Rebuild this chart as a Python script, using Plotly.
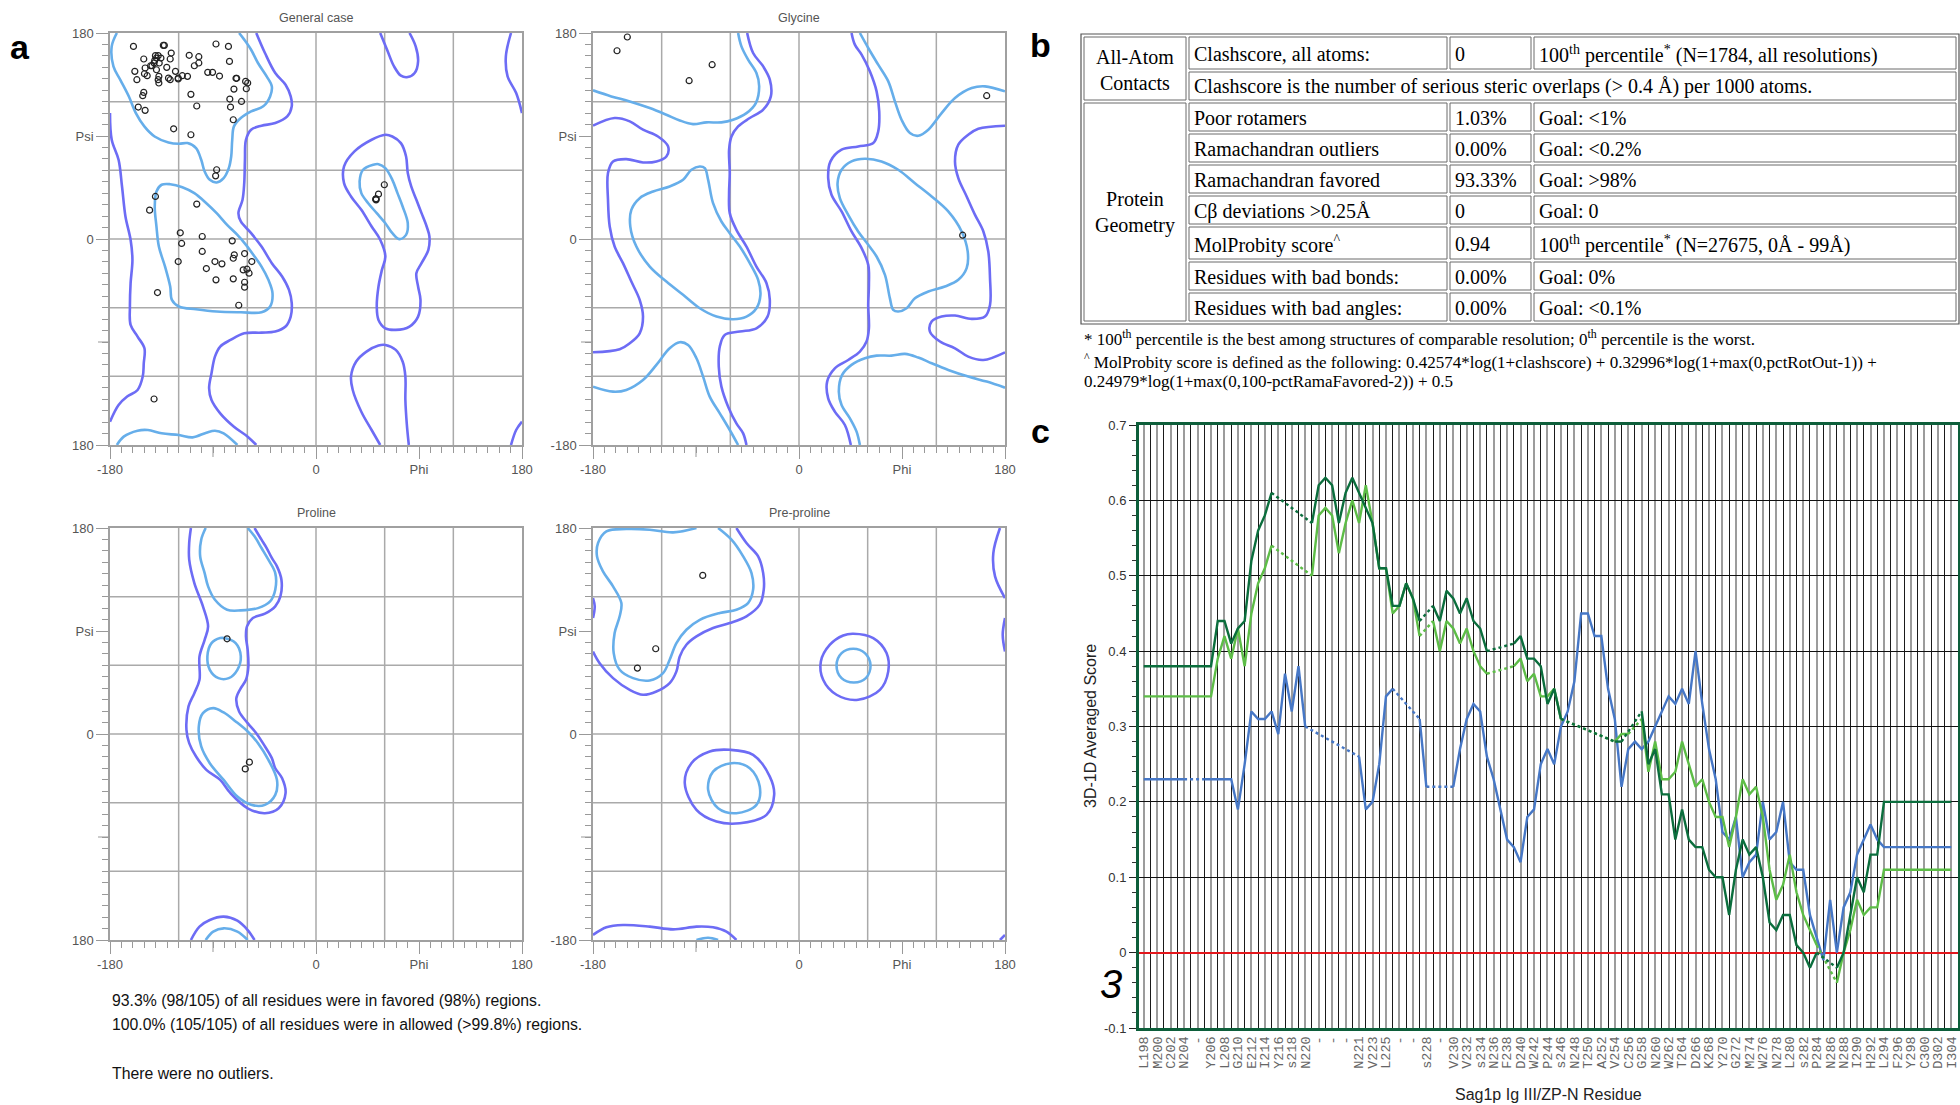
import plotly.graph_objects as go

W, H = 1960, 1105

# ---------------- Panel a : Ramachandran data (phi, psi) ----------------
GEN_FAVORED = [
    [[-174, 180], [-178.5, 168.3], [-177, 150.8], [-171, 139.1], [-163.5, 124.5], [-157.4, 110], [-150, 98.4],
     [-141, 89.6], [-128.9, 84.4], [-119.8, 83.2], [-112.3, 83.8], [-104.8, 79.4], [-100.3, 69.2], [-97.3, 59],
     [-92.8, 51.7], [-86.8, 49.4], [-80.7, 53.2], [-76.2, 61.9], [-74.1, 72.1], [-73.2, 86.7], [-71.7, 98.4],
     [-65.7, 105.7], [-56.7, 111.5], [-46.1, 115.9], [-40.1, 124.6], [-38.6, 133.4], [-43.1, 142.1],
     [-50.7, 153.8], [-56.7, 165.4], [-62.7, 174.2], [-67.2, 180]],
    [[-174, -180], [-168, -172.7], [-155.9, -167.5], [-146.9, -166.9], [-134.9, -169.8], [-119.8, -171.3],
     [-107.8, -173.3], [-95.8, -169.2], [-88.3, -167.5], [-80.7, -169.8], [-68.7, -180]],
    [[-134.9, 47.4], [-139.4, 41.5], [-140.9, 28.4], [-139.4, 10.9], [-137.3, -6.6], [-131.9, -24.1],
     [-127.4, -41.5], [-125.9, -53.2], [-119.8, -59], [-104.8, -61.4], [-86.8, -63.4], [-65.7, -64], [-47.6, -64],
     [-40.1, -59], [-38, -47.4], [-41.6, -35.7], [-47.6, -24.1], [-53.7, -15.3], [-61.2, -5.1], [-68.7, 3.6],
     [-77.7, 12.4], [-86.8, 22.6], [-95.8, 31.3], [-106.3, 40.1], [-116.8, 45.3], [-127.4, 47.9], [-134.9, 47.4]],
    [[50.1, 64.9], [41.1, 60.5], [38.1, 50.3], [39.6, 40.1], [45.6, 31.3], [53.1, 22.6], [60.6, 13.8], [66.7, 5.1],
     [72.7, -0.1], [78.7, 3.6], [80.2, 13.8], [75.7, 28.4], [71.2, 40.1], [66.7, 51.7], [60.6, 61.9], [54.6, 65.4],
     [50.1, 64.9]],
]
GEN_ALLOWED = [
    [[-52.2, 180], [-44.6, 162.5], [-35.6, 145], [-26.6, 134.8], [-22.1, 124.6], [-21.2, 115.9], [-25.1, 107.1],
     [-35.6, 101.3], [-47.6, 99], [-56.7, 95.5], [-61.2, 86.7], [-62.1, 69.2], [-62.7, 48.8], [-64.2, 34.3],
     [-67.8, 22.6], [-65.7, 15.3], [-56.7, 5.1], [-47.6, -6.6], [-38.6, -21.1], [-29.6, -32.8], [-23.6, -44.5],
     [-21.2, -56.1], [-22.1, -67.8], [-26.6, -76.5], [-35.6, -80.9], [-47.6, -81.8], [-62.7, -82.4],
     [-74.7, -88.2], [-83.7, -94], [-88.3, -102.8], [-91.3, -117.3], [-93.4, -130.4], [-91.3, -140.7],
     [-83.7, -152.3], [-71.7, -164], [-59.7, -172.7], [-52.2, -180]],
    [[-180, 110], [-178.5, 86.7], [-172.5, 69.2], [-169.5, 45.9], [-166.5, 19.7], [-162, -0.7], [-160.4, -18.2],
     [-162, -38.6], [-162.6, -59], [-162, -75.1], [-155.9, -85.3], [-149.9, -95.5], [-150.5, -108.6],
     [-151.4, -120.2], [-155.9, -131.9], [-165, -137.7], [-172.5, -145], [-180, -159.6]],
    [[170.4, 180], [165.9, 159.6], [167.4, 142.1], [174.9, 127.5], [180, 110]],
    [[180, -159.6], [174.9, -166.9], [170.4, -180]],
    [[56.1, 180], [62.1, 165.4], [68.2, 150.8], [74.2, 142.7], [80.2, 141.5], [86.2, 145], [89.2, 155.2],
     [87.1, 168.3], [81.7, 180]],
    [[60.6, 91.1], [48.6, 86.7], [33.6, 76.5], [24.5, 63.4], [24.5, 48.8], [30.6, 37.2], [39.6, 25.5], [48.6, 10.9],
     [56.1, -0.7], [60.6, -15.3], [57.6, -27], [54.6, -41.5], [53.1, -59], [54.6, -70.7], [60.6, -78],
     [69.7, -79.4], [81.7, -76.5], [89.2, -67.8], [91.3, -53.2], [89.2, -41.5], [87.7, -29.9], [92.2, -21.1],
     [98.2, -9.5], [99.1, 2.2], [96.7, 10.9], [92.2, 22.6], [87.7, 34.3], [83.2, 45.9], [80.2, 57.6], [78.7, 72.1],
     [74.2, 83.8], [66.7, 89.6], [60.6, 91.1]],
    [[56.1, -180], [48.6, -166.9], [39.6, -150.9], [32.1, -131.9], [30.6, -120.2], [35.1, -107.1], [44.1, -98.4],
     [54.6, -93.1], [60.6, -92.6], [69.7, -96.9], [75.7, -107.1], [78.1, -120.2], [78.1, -140.7], [79.3, -161.1],
     [81.1, -180]],
]
GEN_PHI = [-159.5, -150.5, -149.3, -158.3, -156.5, -149.9, -147.5, -143.3, -140.9, -139.4, -137.9, -137.0, -139.4,
           -137.3, -137.9, -137.3, -135.5, -133.4, -132.5, -130.4, -128.9, -127.4, -126.5, -127.4, -122.8, -120.4,
           -120.4, -116.8, -112.3, -110.8, -102.4, -102.4, -106.3, -109.3, -104.2, -94.6, -90.4, -87.4, -84.3, -76.5,
           -75.6, -69.9, -69.3, -71.7, -75.3, -74.7, -65.1, -61.5, -59.7, -60.9, -72.3, -151.4, -150.5, -155.3,
           -149.3, -124.4, -109.3, -86.8, -87.7, -140.3, -141.5, -144.5,
           -140.3, -145.4, -104.2, -118.6, -117.4, -99.4, -73.2, -99.4, -120.4, -95.8, -88.3, -82.2, -71.4, -72.3,
           -62.4, -56.1, -63.6, -60.3, -58.5, -72.3, -87.4, -62.4, -62.4, -67.5, -138.5,
           59.7, 54.6, 52.5, 52.5, 52.2,
           -141.5]
GEN_PSI = [168.3, 157.3, 149.4, 146.5, 139.2, 144.4, 142.7, 151.4, 156.1, 158.1, 160.2, 153.8, 147.9, 142.1, 139.2,
           136.3, 158.1, 169.2, 169.2, 150.0, 140.6, 157.3, 162.5, 139.2, 146.5, 140.6, 139.8, 142.7, 142.1, 160.5,
           159.3, 153.8, 151.4, 126.4, 116.2, 145.6, 145.6, 170.4, 142.4, 168.3, 155.2, 140.4, 140.4, 131.0, 122.3,
           115.3, 120.2, 137.7, 136.3, 131.3, 104.2, 125.2, 128.1, 115.3, 112.4, 96.3, 91.1, 60.5, 55.2, 160.2,
           153.8, 151.4,
           37.2, 25.2, 30.5, 5.4, -3.9, 2.2, -1.6, -10.9, -19.7, -25.8, -19.7, -21.7, -13.8, -16.8, -12.7, -19.7,
           -27.0, -26.4, -29.9, -34.8, -35.7, -37.8, -42.1, -57.9, -46.8,
           47.4, 39.2, 35.1, 34.2, 34.8,
           -139.8]

GLY_FAVORED = [
    [[-180, 129.9], [-164, 124.6], [-147.9, 120.2], [-130.4, 114.4], [-115.9, 108.6], [-104.2, 103.6],
     [-92.6, 100.4], [-80.9, 101.9], [-67.8, 101.9], [-57.6, 104.2], [-45.9, 110], [-37.7, 118.8], [-34.8, 133.4],
     [-37.2, 145], [-44.5, 156.7], [-50.3, 168.3], [-53.2, 180]],
    [[-53.2, -180], [-60.5, -166.9], [-69.2, -152.3], [-78, -137.7], [-83.8, -120.2], [-89.6, -104.2],
     [-96.9, -92.6], [-104.2, -90.2], [-113, -95.5], [-124.6, -110], [-136.3, -123.2], [-150.9, -131.9],
     [-162.5, -133.4], [-180, -129]],
    [[-86.7, 63.4], [-94, 60.5], [-101.3, 51.7], [-113, 45.9], [-127.5, 41.5], [-139.2, 35.7], [-146.5, 25.5],
     [-147.4, 10.9], [-142.1, -6.6], [-130.4, -24.1], [-115.9, -37.2], [-101.3, -48.8], [-86.7, -60.5],
     [-72.1, -67.8], [-57.6, -70.1], [-45.9, -67.8], [-37.2, -60.5], [-33.7, -48.8], [-35.7, -35.7], [-43, -21.1],
     [-51.7, -6.6], [-60.5, 5.1], [-67.8, 15.3], [-75.1, 31.3], [-79.4, 51.7], [-82.3, 61.9], [-86.7, 63.4]],
    [[180, -129.9], [164, -124.6], [147.9, -120.2], [130.4, -114.4], [115.9, -108.6], [104.2, -103.6],
     [92.6, -100.4], [80.9, -101.9], [67.8, -101.9], [57.6, -104.2], [45.9, -110], [37.7, -118.8], [34.8, -133.4],
     [37.2, -145], [44.5, -156.7], [50.3, -168.3], [53.2, -180]],
    [[53.2, 180], [60.5, 166.9], [69.2, 152.3], [78, 137.7], [83.8, 120.2], [89.6, 104.2], [96.9, 92.6],
     [104.2, 90.2], [113, 95.5], [124.6, 110], [136.3, 123.2], [150.9, 131.9], [162.5, 133.4], [180, 129]],
    [[86.7, -63.4], [94, -60.5], [101.3, -51.7], [113, -45.9], [127.5, -41.5], [139.2, -35.7], [146.5, -25.5],
     [147.4, -10.9], [142.1, 6.6], [130.4, 24.1], [115.9, 37.2], [101.3, 48.8], [86.7, 60.5], [72.1, 67.8],
     [57.6, 70.1], [45.9, 67.8], [37.2, 60.5], [33.7, 48.8], [35.7, 35.7], [43, 21.1], [51.7, 6.6], [60.5, -5.1],
     [67.8, -15.3], [75.1, -31.3], [79.4, -51.7], [82.3, -61.9], [86.7, -63.4]],
]
GLY_ALLOWED = [
    [[-180, 99], [-161.1, 105.7], [-147.9, 102.8], [-136.3, 95.5], [-123.2, 89.6], [-114.4, 80.9], [-115.9, 72.1],
     [-124.6, 67.8], [-136.3, 66.9], [-150.9, 69.8], [-162.5, 67.8], [-166.9, 57.6], [-166.9, 34.3],
     [-165.4, 10.9], [-161.1, -6.6], [-153.8, -21.1], [-146.5, -37.2], [-139.2, -53.2], [-136.3, -67.8],
     [-139.2, -82.4], [-147.9, -91.1], [-156.7, -96.3], [-180, -99]],
    [[-45.3, 180], [-40.1, 162.5], [-31.3, 150.8], [-25.5, 139.2], [-24.6, 124.6], [-31.3, 113], [-43, 105.7],
     [-53.2, 98.4], [-59, 89.6], [-61.1, 78], [-60.5, 57.6], [-61.1, 40.1], [-60.5, 22.6], [-54.7, 8],
     [-45.9, -6.6], [-37.2, -24.1], [-28.4, -38.6], [-25.5, -53.2], [-27.5, -67.8], [-37.2, -78], [-51.7, -80.9],
     [-64.9, -83.8], [-69.2, -94], [-70.1, -111.5], [-67.8, -129], [-61.9, -146.5], [-54.7, -161.1],
     [-48.8, -169.8], [-45.9, -180]],
    [[45.3, -180], [40.1, -162.5], [31.3, -150.8], [25.5, -139.2], [24.6, -124.6], [31.3, -113], [43, -105.7],
     [53.2, -98.4], [59, -89.6], [61.1, -78], [60.5, -57.6], [61.1, -40.1], [60.5, -22.6], [54.7, -8],
     [45.9, 6.6], [37.2, 24.1], [28.4, 38.6], [25.5, 53.2], [27.5, 67.8], [37.2, 78], [51.7, 80.9], [64.9, 83.8],
     [69.2, 94], [70.1, 111.5], [67.8, 129], [61.9, 146.5], [54.7, 161.1], [48.8, 169.8], [45.9, 180]],
    [[180, -99], [161.1, -105.7], [147.9, -102.8], [136.3, -95.5], [123.2, -89.6], [114.4, -80.9], [115.9, -72.1],
     [124.6, -67.8], [136.3, -66.9], [150.9, -69.8], [162.5, -67.8], [166.9, -57.6], [166.9, -34.3],
     [165.4, -10.9], [161.1, 6.6], [153.8, 21.1], [146.5, 37.2], [139.2, 53.2], [136.3, 67.8], [139.2, 82.4],
     [147.9, 91.1], [156.7, 96.3], [180, 99]],
]
GLY_PHI = [-150.0, -159.0, -75.9, -96.0, 164.0, 143.0]
GLY_PSI = [176.5, 164.5, 152.3, 138.3, 125.2, 3.3]

PRO_FAVORED = [
    [[-96.4, 180], [-100.3, 169.8], [-101.2, 155.2], [-97.3, 140.6], [-94.3, 129], [-88.3, 117.3], [-77.7, 108.6],
     [-65.7, 108], [-50.7, 110], [-40.1, 115.9], [-35.6, 126.1], [-35.6, 140.6], [-41.6, 152.3], [-47.6, 162.5],
     [-53.7, 172.7], [-59.7, 180]],
    [[-80.1, 83.8], [-70.2, 79.4], [-65.7, 67.8], [-68.7, 56.1], [-76.2, 48.8], [-85.2, 48.8], [-92.8, 56.1],
     [-94.9, 67.8], [-91.3, 79.4], [-83.7, 83.8], [-80.1, 83.8]],
    [[-89.8, 22.6], [-98.8, 18.2], [-102.4, 6.6], [-100.3, -10.9], [-92.8, -25.5], [-80.7, -40.1], [-68.7, -54.7],
     [-56.7, -61.9], [-44.6, -61.9], [-35.6, -53.2], [-34.1, -40.1], [-41.6, -22.6], [-50.7, -8], [-59.7, 2.2],
     [-70.2, 11], [-80.7, 18.8], [-89.8, 22.6]],
    [[-96.4, -180], [-89.8, -172.7], [-80.7, -169.8], [-68.7, -172.7], [-59.7, -180]],
]
PRO_ALLOWED = [
    [[-109.3, 180], [-110.8, 166.9], [-110.8, 152.3], [-106.3, 131.9], [-98.8, 111.5], [-94.3, 94], [-97.3, 82.3],
     [-101.8, 67.8], [-101.8, 47.4], [-106.3, 35.7], [-111.4, 24.1], [-113.2, 3.6], [-110.8, -8], [-104.8, -19.7],
     [-95.8, -31.3], [-83.7, -40.1], [-74.7, -51.7], [-59.7, -64.9], [-44.6, -69.2], [-32.6, -64.9],
     [-26.6, -51.7], [-29.6, -38.6], [-35.6, -29.9], [-38.6, -21.1], [-44.6, -10.9], [-52.2, 0.7], [-59.7, 9.5],
     [-67.2, 19.7], [-69.6, 31.3], [-65.7, 40.1], [-61.2, 47.4], [-59.1, 59], [-59.7, 73.6], [-61.2, 85.3],
     [-60.3, 94], [-55.2, 101.3], [-44.6, 105.1], [-35.6, 111.5], [-31.1, 120.2], [-30.2, 134.8], [-34.1, 146.5],
     [-38.6, 153.8], [-43.1, 162.5], [-47.6, 169.8], [-53.7, 180]],
    [[-109.3, -180], [-101.8, -168.3], [-92.8, -162.5], [-80.7, -159.6], [-68.7, -163.1], [-59.7, -171.3],
     [-53.7, -180]],
]
PRO_PHI = [-77.7, -58.2, -61.8]
PRO_PSI = [83.2, -24.6, -30.5]

PREPRO_FAVORED = [
    [[-89.6, 180], [-110, 176.2], [-130.4, 178.5], [-150.9, 179.1], [-168.3, 177.1], [-175.6, 166.9],
     [-176.5, 155.2], [-171.3, 142.1], [-162.5, 129], [-155.2, 114.4], [-156.7, 102.8], [-161.1, 88.2],
     [-161.9, 70.7], [-156.7, 56.1], [-145, 48.8], [-130.4, 46.8], [-118.8, 53.2], [-113, 64.9], [-107.1, 79.4],
     [-98.4, 91.1], [-86.7, 99.8], [-69.2, 105.7], [-54.7, 108.6], [-44.5, 114.4], [-40.1, 126.1],
     [-41.5, 140.6], [-48.8, 155.2], [-59, 169.8], [-70.7, 180]],
    [[-89.6, -180], [-79.4, -178], [-70.7, -180]],
    [[47.4, 74.5], [57.6, 70.7], [62.5, 59.9], [58.4, 48.8], [48, 45], [37.2, 48.8], [32.8, 59.9], [37.2, 70.7],
     [47.4, 74.5]],
    [[-59, -25.5], [-43, -29.9], [-34.3, -45.9], [-37.2, -61.9], [-54.7, -69.2], [-70.7, -64.9], [-79.4, -48.8],
     [-75.1, -32.8], [-59, -25.5]],
]
PREPRO_ALLOWED = [
    [[-54.7, 180], [-45.9, 166.9], [-35.7, 155.2], [-31.3, 140.6], [-30.8, 126.1], [-34.3, 113], [-45.9, 102.8],
     [-60.5, 96.9], [-75.1, 92.6], [-89.6, 85.3], [-98.4, 78], [-104.2, 67.8], [-107.1, 54.7], [-113, 44.5],
     [-124.6, 37.2], [-136.3, 34.3], [-147.9, 38.6], [-162.5, 48.8], [-174.2, 61.9], [-180, 72.1]],
    [[-180, 118.8], [-178.5, 111.5], [-180, 101.3]],
    [[175.6, 180], [169.8, 158.1], [171.3, 137.7], [180, 118.8]],
    [[180, 101.3], [178, 86.7], [180, 72.1]],
    [[175.6, -180], [180, -175.6]],
    [[-180, -175.6], [-168.3, -168.9], [-153.8, -166.9], [-130.4, -168.3], [-110, -170.7], [-89.6, -168.3],
     [-75.1, -168.9], [-63.4, -172.7], [-54.7, -180]],
    [[47.4, 87.6], [64.9, 83.8], [76.5, 70.7], [78, 54.7], [70.7, 38.6], [51.7, 29.9], [32.8, 34.3], [21.1, 47.4],
     [19.1, 63.4], [27, 78], [38.6, 86.1], [47.4, 87.6]],
    [[-60.5, -13.8], [-40.1, -18.2], [-25.5, -37.2], [-21.7, -53.2], [-28.4, -70.7], [-51.7, -78], [-72.1, -76.5],
     [-89.6, -66.3], [-99.8, -43], [-94, -25.5], [-78, -15.3], [-60.5, -13.8]],
]
PREPRO_PHI = [-84.1, -125.2, -141.2]
PREPRO_PSI = [138.6, 74.5, 57.6]

RAMA_TICKS = [-180, 0, 90, 180]          # labelled ticks
RAMA_LONG_UNLABELLED = [-90]             # long tick without label
RAMA_GRID = [-120, -60, 0, 60, 120]
RAMA_SUMMARY = ["93.3% (98/105) of all residues were in favored (98%) regions.",
                "100.0% (105/105) of all residues were in allowed (&gt;99.8%) regions.",
                None,
                "There were no outliers."]

# ---------------- Panel b : MolProbity table ----------------
TABLE_GROUPS = [("All-Atom<br>Contacts", 0, 1), ("Protein<br>Geometry", 2, 8)]
TABLE_ROWS = [
    ("Clashscore, all atoms:", "0", "100<sup>th</sup> percentile<sup>*</sup> (N=1784, all resolutions)"),
    ("Clashscore is the number of serious steric overlaps (&gt; 0.4 Å) per 1000 atoms.", None, None),
    ("Poor rotamers", "1.03%", "Goal: &lt;1%"),
    ("Ramachandran outliers", "0.00%", "Goal: &lt;0.2%"),
    ("Ramachandran favored", "93.33%", "Goal: &gt;98%"),
    ("Cβ deviations &gt;0.25Å", "0", "Goal: 0"),
    ("MolProbity score<sup>^</sup>", "0.94", "100<sup>th</sup> percentile<sup>*</sup> (N=27675, 0Å - 99Å)"),
    ("Residues with bad bonds:", "0.00%", "Goal: 0%"),
    ("Residues with bad angles:", "0.00%", "Goal: &lt;0.1%"),
]
TABLE_NOTES = [
    "* 100<sup>th</sup> percentile is the best among structures of comparable resolution; 0<sup>th</sup> percentile is the worst.",
    "<sup>^</sup> MolProbity score is defined as the following: 0.42574*log(1+clashscore) + 0.32996*log(1+max(0,pctRotOut-1)) +",
    "0.24979*log(1+max(0,100-pctRamaFavored-2)) + 0.5",
]

# ---------------- Panel c : 3D-1D profile ----------------
RES_LABELS = ["L198", "M200", "C202", "N204", "-", "Y206", "L208", "G210", "E212", "I214", "Y216", "s218", "N220",
              "-", "-", "-", "N221", "V223", "L225", "-", "-", "s228", "-", "V230", "V232", "s234", "N236", "F238",
              "D240", "W242", "P244", "s246", "N248", "T250", "A252", "V254", "C256", "G258", "N260", "W262", "T264",
              "D266", "K268", "Y270", "G272", "M274", "W276", "N278", "L280", "s282", "P284", "N286", "N288", "I290",
              "H292", "L294", "F296", "Y298", "C300", "D302", "I304"]
N_ = None
SCORE_DARK = [0.38] * 11 + [0.44, 0.44, 0.41, 0.43, 0.44, 0.52, 0.56, 0.58, 0.61] + [N_] * 5 + \
    [0.57, 0.62, 0.63, 0.62, 0.57, 0.61, 0.63, 0.61, 0.59, 0.57, 0.51, 0.51, 0.46, 0.46, 0.49, 0.47, 0.44] + [N_] + \
    [0.46, 0.44, 0.48, 0.47, 0.45, 0.47, 0.44, 0.43, 0.40] + [N_] * 3 + \
    [0.41, 0.42, 0.39, 0.39, 0.38, 0.33, 0.35, 0.31] + [N_] * 7 + [0.28, 0.28] + [N_] * 2 + \
    [0.32, 0.25, 0.27, 0.21, 0.21, 0.15, 0.19, 0.15, 0.14, 0.14, 0.11, 0.10, 0.10, 0.05, 0.11, 0.15, 0.13, 0.14,
     0.10, 0.04, 0.03, 0.05, 0.05, 0.01, 0.00, -0.02, 0.00] + [N_] * 2 + \
    [-0.02, 0.00, 0.05, 0.10, 0.08, 0.13, 0.13] + [0.20] * 11
SCORE_LIGHT = [0.34] * 11 + [0.39, 0.42, 0.39, 0.43, 0.38, 0.45, 0.49, 0.51, 0.54] + [N_] * 5 + \
    [0.50, 0.58, 0.59, 0.58, 0.53, 0.57, 0.60, 0.57, 0.62, 0.57, 0.51, 0.51, 0.45, 0.46, 0.49, 0.47, 0.42] + [N_] + \
    [0.44, 0.40, 0.44, 0.43, 0.41, 0.43, 0.40, 0.38, 0.37] + [N_] * 3 + \
    [0.38, 0.39, 0.36, 0.37, 0.34, 0.34, 0.35, 0.31] + [N_] * 7 + [0.28, 0.29, 0.29] + [N_] + \
    [0.31, 0.24, 0.28, 0.23, 0.23, 0.24, 0.28, 0.25, 0.22, 0.23, 0.20, 0.18, 0.18, 0.14, 0.18, 0.23, 0.21, 0.22,
     0.18, 0.11, 0.07, 0.09, 0.13, 0.08, 0.05, 0.03, 0.01] + [N_] * 2 + \
    [-0.04, 0.00, 0.03, 0.07, 0.05, 0.06, 0.06] + [0.11] * 11
SCORE_BLUE = [0.23] * 7 + [N_] * 2 + [0.23] * 5 + \
    [0.19, 0.25, 0.32, 0.31, 0.31, 0.32, 0.29, 0.37, 0.32, 0.38, 0.30] + [N_] * 7 + \
    [0.26, 0.19, 0.20, 0.25, 0.34, 0.35] + [N_] * 3 + [0.31, 0.22] + [N_] * 3 + \
    [0.22, 0.27, 0.31, 0.33, 0.32, 0.26, 0.23, 0.19, 0.15, 0.14, 0.12, 0.18, 0.19, 0.25, 0.27, 0.25, 0.30, 0.32,
     0.36, 0.45, 0.45, 0.42, 0.42, 0.35, 0.31, 0.22, 0.27, 0.28, 0.27, 0.28, 0.30, 0.32, 0.34, 0.33, 0.35, 0.33,
     0.40, 0.33, 0.27, 0.23, 0.16, 0.15, 0.18, 0.10, 0.12, 0.13, 0.20, 0.15, 0.16, 0.20, 0.12, 0.11, 0.11, 0.05,
     0.02, -0.01, 0.07, 0.00, 0.06, 0.08, 0.13, 0.15, 0.17, 0.15] + [0.14] * 11
Y_TICKS = [-0.1, 0, 0.1, 0.2, 0.3, 0.4, 0.5, 0.6, 0.7]
Y_TICK_TEXT = ["-0.1", "0", "0.1", "0.2", "0.3", "0.4", "0.5", "0.6", "0.7"]

# ---------------- styles ----------------
FAV_COLOR = "#66aeea"
ALLOW_COLOR = "#6d6cf5"
DARK_GREEN = "#0b6e3d"
LIGHT_GREEN = "#5dbd47"
BLUE = "#4677c6"
FRAME_GREEN = "#0d5e3a"
SANS = "Liberation Sans"
SERIF = "Liberation Serif"
MONO = "Liberation Mono"


def px(x):
    return x / W


def py(y):
    return 1 - y / H


fig = go.Figure()
annotations = []
shapes = []

RAMA_PANELS = [
    ("General case", GEN_FAVORED, GEN_ALLOWED, GEN_PHI, GEN_PSI, (110, 33, 522, 445), "180"),
    ("Glycine", GLY_FAVORED, GLY_ALLOWED, GLY_PHI, GLY_PSI, (593, 33, 1005, 445), "-180"),
    ("Proline", PRO_FAVORED, PRO_ALLOWED, PRO_PHI, PRO_PSI, (110, 528, 522, 940), "180"),
    ("Pre-proline", PREPRO_FAVORED, PREPRO_ALLOWED, PREPRO_PHI, PREPRO_PSI, (593, 528, 1005, 940), "-180"),
]
LONG_TICK = 12

layout_axes = {}
for i, (title, fav, allo, phis, psis, box, bottom_lbl) in enumerate(RAMA_PANELS, start=1):
    xr = "x" if i == 1 else f"x{i}"
    yr = "y" if i == 1 else f"y{i}"
    x0, y0, x1, y1 = box
    for group, color in ((allo, ALLOW_COLOR), (fav, FAV_COLOR)):
        for c in group:
            fig.add_trace(go.Scatter(
                x=[p[0] for p in c], y=[p[1] for p in c], mode="lines",
                line=dict(color=color, width=2.6, shape="spline", smoothing=1.0),
                xaxis=xr, yaxis=yr, hoverinfo="skip", showlegend=False))
    fig.add_trace(go.Scatter(
        x=phis, y=psis, mode="markers",
        marker=dict(symbol="circle-open", size=6, color="#222", line=dict(width=1.2, color="#222")),
        xaxis=xr, yaxis=yr, showlegend=False, hoverinfo="skip"))
    common = dict(range=[-180, 180], showgrid=False, zeroline=False, showline=True, linecolor="#a0a0a0",
                  linewidth=1.5, mirror=True, ticks="outside", ticklen=LONG_TICK, tickcolor="#999", tickwidth=1,
                  tickmode="array", tickvals=RAMA_TICKS, automargin=False,
                  minor=dict(tick0=0, dtick=10, ticks="outside", ticklen=6, tickcolor="#999", tickwidth=1,
                             showgrid=False),
                  tickfont=dict(family=SANS, size=13, color="#555"), fixedrange=True)
    layout_axes["xaxis" if i == 1 else f"xaxis{i}"] = dict(
        common, domain=[px(x0), px(x1)], anchor=yr, ticktext=["-180", "0", "Phi", "180"])
    layout_axes["yaxis" if i == 1 else f"yaxis{i}"] = dict(
        common, domain=[py(y1), py(y0)], anchor=xr, ticktext=[bottom_lbl, "0", "Psi", "180"])
    size = x1 - x0
    for v in RAMA_LONG_UNLABELLED:
        shapes.append(dict(type="line", xref=xr, yref=f"{yr} domain", x0=v, x1=v, y0=0, y1=-LONG_TICK / size,
                           line=dict(color="#999", width=1)))
        shapes.append(dict(type="line", xref=f"{xr} domain", yref=yr, x0=0, x1=-LONG_TICK / size, y0=v, y1=v,
                           line=dict(color="#999", width=1)))
    for g in RAMA_GRID:
        shapes.append(dict(type="line", xref=xr, yref=yr, x0=g, x1=g, y0=-180, y1=180, layer="below",
                           line=dict(color="#aaaaaa", width=1.5)))
        shapes.append(dict(type="line", xref=xr, yref=yr, x0=-180, x1=180, y0=g, y1=g, layer="below",
                           line=dict(color="#aaaaaa", width=1.5)))
    annotations.append(dict(x=px((x0 + x1) / 2), y=py(y0 - 15), xref="paper", yref="paper", text=title,
                            showarrow=False, font=dict(family=SANS, size=12.5, color="#555"),
                            xanchor="center", yanchor="middle"))

for k, line in enumerate(RAMA_SUMMARY):
    if line:
        annotations.append(dict(x=px(110), y=py(1000 + 24.5 * k), xref="paper", yref="paper", text=line,
                                showarrow=False, font=dict(family=SANS, size=15.8, color="#111"),
                                xanchor="left", yanchor="middle"))

# ---------------- table (panel b) ----------------
COL_EDGES = [(1084, 1186), (1189, 1447), (1450, 1531), (1534, 1956)]
ROW_EDGES = [(37, 69), (72, 100), (103, 131), (134, 162), (165, 193), (196, 224), (227, 259), (262, 290),
             (293, 321)]
CELL_LINE = dict(color="#6a6a6a", width=1)
shapes.append(dict(type="rect", xref="paper", yref="paper", x0=px(1081), x1=px(1959), y0=py(34), y1=py(324),
                   line=dict(color="#555", width=1.2)))


def cell(xa, xb, ya, yb, text, center=False):
    shapes.append(dict(type="rect", xref="paper", yref="paper", x0=px(xa), x1=px(xb), y0=py(ya), y1=py(yb),
                       line=CELL_LINE))
    annotations.append(dict(x=px((xa + xb) / 2 if center else xa + 3), y=py((ya + yb) / 2 + 1), xref="paper",
                            yref="paper", text=text, showarrow=False, align="center",
                            font=dict(family=SERIF, size=20, color="#000"),
                            xanchor="center" if center else "left", yanchor="middle"))


for text, r0, r1 in TABLE_GROUPS:
    cell(COL_EDGES[0][0], COL_EDGES[0][1], ROW_EDGES[r0][0], ROW_EDGES[r1][1], text, center=True)
for r, (a, b, c) in enumerate(TABLE_ROWS):
    ya, yb = ROW_EDGES[r]
    if b is None:
        cell(COL_EDGES[1][0], COL_EDGES[3][1], ya, yb, a)
    else:
        for (xa, xb), t in zip(COL_EDGES[1:], (a, b, c)):
            cell(xa, xb, ya, yb, t)
for k, note in enumerate(TABLE_NOTES):
    annotations.append(dict(x=px(1082), y=py([338, 361, 381][k]), xref="paper", yref="paper", text=note,
                            showarrow=False, font=dict(family=SERIF, size=17, color="#000"),
                            xanchor="left", yanchor="middle"))

# ---------------- panel c ----------------
N_POS = len(SCORE_DARK)
XPOS = list(range(N_POS))


def gap_bridges(vals):
    bx, by, last = [], [], None
    for i, v in enumerate(vals):
        if v is None:
            continue
        if last is not None and i - last > 1:
            bx += [last, i, None]
            by += [vals[last], v, None]
        last = i
    return bx, by


for vals, color in ((SCORE_BLUE, BLUE), (SCORE_LIGHT, LIGHT_GREEN), (SCORE_DARK, DARK_GREEN)):
    bx, by = gap_bridges(vals)
    fig.add_trace(go.Scatter(x=bx, y=by, mode="lines", line=dict(color=color, width=2.4, dash="dot"),
                             xaxis="x5", yaxis="y5", showlegend=False, hoverinfo="skip", connectgaps=False))
    fig.add_trace(go.Scatter(x=XPOS, y=vals, mode="lines", line=dict(color=color, width=2.4),
                             xaxis="x5", yaxis="y5", showlegend=False, connectgaps=False))

layout_axes["xaxis5"] = dict(
    domain=[px(1139), px(1958)], anchor="y5", range=[-0.7, N_POS], tickmode="array",
    tickvals=list(range(0, N_POS, 2)), ticktext=RES_LABELS, tickangle=-90, ticks="",
    tickfont=dict(family=MONO, size=13.5, color="#666"), automargin=False, ticklabeloverflow="allow",
    showgrid=True, gridcolor="#9c9c9c", gridwidth=2,
    minor=dict(tickmode="linear", tick0=1, dtick=2, showgrid=True, gridcolor="#1a1a1a", gridwidth=1, ticks=""),
    showline=True, linecolor=FRAME_GREEN, linewidth=3, mirror=True, zeroline=False, fixedrange=True)
layout_axes["yaxis5"] = dict(
    domain=[py(1028), py(425)], anchor="x5", range=[-0.1, 0.7], tickmode="array", tickvals=Y_TICKS,
    ticktext=Y_TICK_TEXT, ticks="outside", ticklen=7, tickcolor="#222", tickwidth=1, automargin=False,
    minor=dict(tick0=0, dtick=0.02, ticks="outside", ticklen=4, tickcolor="#333", showgrid=False),
    showgrid=True, gridcolor="#111", gridwidth=1.2, zeroline=True, zerolinecolor="#e3161b", zerolinewidth=1.5,
    showline=True, linecolor=FRAME_GREEN, linewidth=3, mirror=True,
    tickfont=dict(family=SANS, size=13, color="#333"), fixedrange=True)

annotations += [
    dict(x=px(1090), y=py(726), text="3D-1D Averaged Score", textangle=-90, font=dict(family=SANS, size=16,
         color="#222")),
    dict(x=px(1548), y=py(1094), text="Sag1p Ig III/ZP-N Residue", font=dict(family=SANS, size=16, color="#222")),
    dict(x=px(1111), y=py(984), text="<i>3</i>", font=dict(family=SANS, size=40, color="#000")),
    dict(x=px(20), y=py(47), text="<b>a</b>", font=dict(family=SANS, size=34, color="#000")),
    dict(x=px(1040), y=py(45), text="<b>b</b>", font=dict(family=SANS, size=34, color="#000")),
    dict(x=px(1040), y=py(431), text="<b>c</b>", font=dict(family=SANS, size=34, color="#000")),
]
for a in annotations[-6:]:
    a.update(xref="paper", yref="paper", showarrow=False, xanchor="center", yanchor="middle")

fig.update_layout(
    width=W, height=H, autosize=False, margin=dict(l=0, r=0, t=0, b=0, pad=0, autoexpand=False),
    paper_bgcolor="white", plot_bgcolor="white", showlegend=False,
    annotations=annotations, shapes=shapes, **layout_axes)

fig.write_html("out.html", post_script="document.body.style.margin='0px';",
               config={"displayModeBar": False})
